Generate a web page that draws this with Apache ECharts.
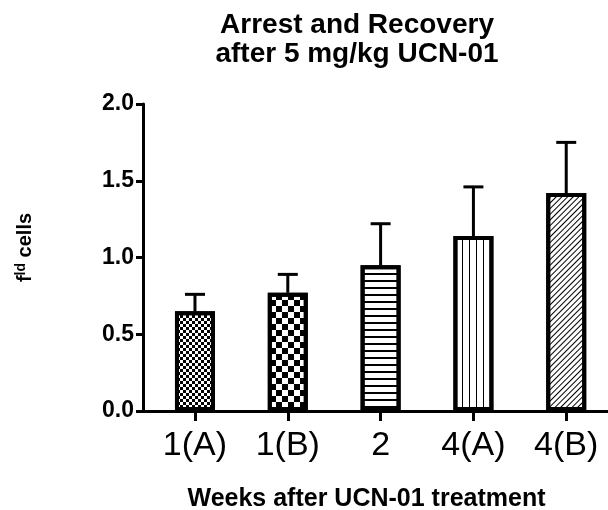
<!DOCTYPE html>
<html>
<head>
<meta charset="utf-8">
<script src="https://cdn.jsdelivr.net/npm/echarts@6/dist/echarts.min.js"></script>
<style>
html,body{margin:0;padding:0;background:#fff;}
#chart{width:608px;height:510px;}
</style>
</head>
<body>
<div id="chart"></div>
<script>
var categories = ['1(A)', '1(B)', '2', '4(A)', '4(B)'];
var means = [0.65, 0.77, 0.95, 1.14, 1.42];
var errors = [0.11, 0.12, 0.27, 0.32, 0.33];
var yTicks = [0, 0.5, 1.0, 1.5, 2.0];

var FONT = '"Liberation Sans", Arial, sans-serif';

var decals = [
  { symbol: 'rect', symbolSize: 1, symbolKeepAspect: false, color: '#000', dashArrayX: [[3, 3], [0, 3, 3, 0]], dashArrayY: [3, 0] },
  { symbol: 'rect', symbolSize: 1, symbolKeepAspect: false, color: '#000', dashArrayX: [[6, 6], [0, 6, 6, 0]], dashArrayY: [6, 0] },
  { symbol: 'rect', symbolSize: 1, symbolKeepAspect: false, color: '#000', dashArrayX: [1, 0], dashArrayY: [2, 5] },
  { symbol: 'rect', symbolSize: 1, symbolKeepAspect: false, color: '#000', dashArrayX: [1, 6], dashArrayY: [1, 0] },
  { symbol: 'rect', symbolSize: 1, symbolKeepAspect: false, color: '#000', dashArrayX: [1, 0], dashArrayY: [1, 3], rotation: -Math.PI / 4 }
];

var barData = means.map(function (v, i) {
  return {
    value: [i, v],
    itemStyle: { color: '#fff', borderColor: '#000', borderWidth: 4, decal: decals[i] }
  };
});
var errData = means.map(function (v, i) { return [i, v, v + errors[i]]; });

var chart = echarts.init(document.getElementById('chart'), null, { renderer: 'canvas' });
chart.setOption({
  animation: false,
  backgroundColor: '#fff',
  title: {
    text: 'Arrest and Recovery\nafter 5 mg/kg UCN-01',
    left: 352,
    top: 6,
    textAlign: 'center',
    textStyle: { fontFamily: FONT, fontWeight: 'bold', fontSize: 28, lineHeight: 29, color: '#000' }
  },
  grid: { left: 143, right: 0, top: 104, bottom: 99, containLabel: false, outerBoundsMode: 'none' },
  xAxis: {
    type: 'value',
    min: -0.56,
    max: 4.45,
    name: 'Weeks after UCN-01 treatment',
    nameLocation: 'middle',
    nameGap: 76,
    nameTextStyle: { fontFamily: FONT, fontWeight: 'bold', fontSize: 25, color: '#000', padding: [0, 18, 0, 0] },
    axisLine: { show: true, onZero: false, lineStyle: { color: '#000', width: 3 } },
    axisTick: { show: true, customValues: [0, 1, 2, 3, 4], length: 10, lineStyle: { color: '#000', width: 3 } },
    axisLabel: {
      customValues: [0, 1, 2, 3, 4],
      formatter: function (v) { return categories[Math.round(v)]; },
      fontFamily: FONT, fontSize: 34, color: '#000', margin: 18
    },
    splitLine: { show: false }
  },
  yAxis: {
    type: 'value',
    min: 0,
    max: 2,
    interval: 0.5,
    name: '{n|f}{s|ld}{n| cells}',
    nameLocation: 'middle',
    nameRotate: 90,
    nameGap: 107,
    nameTextStyle: {
      fontSize: 20,
      fontWeight: 'bold',
      fontFamily: FONT,
      padding: [0, 0, 0, 20],
      rich: {
        n: { fontFamily: FONT, fontWeight: 'bold', fontSize: 20, color: '#000' },
        s: { fontFamily: FONT, fontWeight: 'bold', fontSize: 14, color: '#000', verticalAlign: 'top', padding: [0, 0, 8, 0] }
      }
    },
    axisLine: { show: true, onZero: false, lineStyle: { color: '#000', width: 3 } },
    axisTick: { show: true, length: 7, lineStyle: { color: '#000', width: 3 } },
    axisLabel: {
      formatter: function (v) { return v.toFixed(1); },
      fontFamily: FONT, fontWeight: 'bold', fontSize: 23, color: '#000', margin: 9
    },
    splitLine: { show: false }
  },
  series: [
    {
      type: 'bar',
      barWidth: 40,
      data: barData,
      z: 2
    },
    {
      type: 'custom',
      z: 3,
      data: errData,
      renderItem: function (params, api) {
        var x = api.value(0);
        var lo = api.coord([x, api.value(1)]);
        var hi = api.coord([x, api.value(2)]);
        var half = 10;
        return {
          type: 'group',
          children: [
            { type: 'line', shape: { x1: lo[0], y1: lo[1], x2: hi[0], y2: hi[1] }, style: { stroke: '#000', lineWidth: 3 } },
            { type: 'line', shape: { x1: hi[0] - half, y1: hi[1], x2: hi[0] + half, y2: hi[1] }, style: { stroke: '#000', lineWidth: 3 } }
          ]
        };
      }
    }
  ]
});
</script>
</body>
</html>
